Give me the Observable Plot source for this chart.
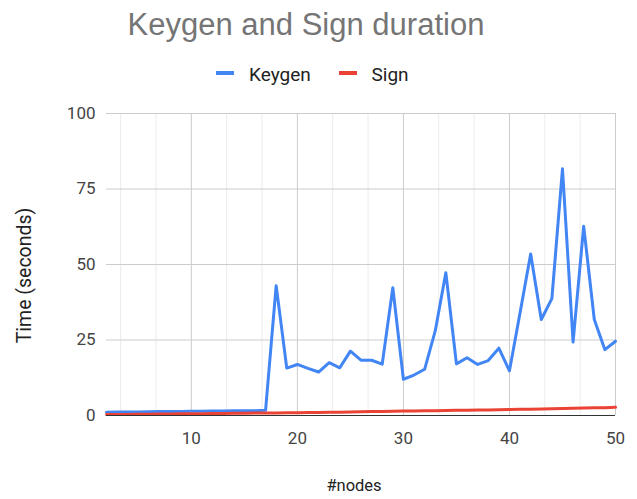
<!DOCTYPE html>
<html>
<head>
<meta charset="utf-8">
<script src="https://cdn.jsdelivr.net/npm/d3@7"></script>
<script src="https://cdn.jsdelivr.net/npm/@observablehq/plot@0.6"></script>
<style>
  body { margin: 0; background: #fff; }
  #wrap { position: relative; width: 637px; height: 499px; overflow: hidden; background: #fff; }
  #title { position: relative; height: 50px; }
  #title span { position: absolute; left: 306px; top: 9px; transform: translateX(-50%); white-space: nowrap;
    font-family: "Liberation Sans", Arial, sans-serif; font-size: 31px; line-height: 31px; color: #757575; }
  #legend { position: relative; height: 40px; font-family: Roboto, sans-serif; font-size: 19px; line-height: 19px; color: #222; }
  #legend .sw { position: absolute; top: 21.3px; width: 18px; height: 4px; }
  #legend .lb { position: absolute; top: 15px; white-space: nowrap; }
  #chart svg { display: block; }
</style>
</head>
<body>
<div id="wrap">
  <div id="title"><span>Keygen and Sign duration</span></div>
  <div id="legend">
    <div class="sw" style="left:216px;background:#4285f4"></div><div class="lb" style="left:249px">Keygen</div>
    <div class="sw" style="left:339px;background:#ea4335"></div><div class="lb" style="left:371.5px">Sign</div>
  </div>
  <div id="chart"></div>
</div>
<script>
const nodes = [2,3,4,5,6,7,8,9,10,11,12,13,14,15,16,17,18,19,20,21,22,23,24,25,26,27,28,29,30,31,32,33,34,35,36,37,38,39,40,41,42,43,44,45,46,47,48,49,50];
const keygen = [1.1,1.15,1.2,1.2,1.25,1.3,1.3,1.35,1.4,1.4,1.45,1.5,1.55,1.6,1.6,1.7,
  43,15.7,16.9,15.6,14.4,17.5,15.8,21.3,18.3,18.3,17.0,42.3,12.0,13.4,15.3,28,47.3,17.1,19.1,16.9,18.2,22.3,14.8,34,53.5,31.8,38.7,81.7,24.3,62.7,31.8,21.8,24.6];
const sign = [0.3,0.32,0.36,0.4,0.44,0.48,0.5,0.55,0.6,0.62,0.66,0.7,0.72,0.76,0.8,0.82,0.85,0.88,0.92,0.96,1.0,1.05,1.1,1.15,1.25,1.3,1.35,1.4,1.45,1.5,1.55,1.6,1.65,1.7,1.75,1.8,1.85,1.9,2.0,2.05,2.1,2.15,2.25,2.3,2.4,2.45,2.55,2.6,2.7];
const xTicks = [10,20,30,40,50];
const xMinor = [10/3,20/3,40/3,50/3,70/3,80/3,100/3,110/3,130/3,140/3];
const yTicks = [0,25,50,75,100];

const data = nodes.map((n, i) => ({n, keygen: keygen[i], sign: sign[i]}));

const chart = Plot.plot({
  width: 637, height: 409,
  marginTop: 23, marginBottom: 84, marginLeft: 106, marginRight: 22,
  style: {fontFamily: "Roboto, sans-serif", fontSize: "17px", color: "#444", background: "#fff"},
  x: {domain: [2, 50]},
  y: {domain: [0, 100]},
  marks: [
    Plot.ruleX(xMinor, {stroke: "#ebebeb", strokeWidth: 1}),
    Plot.ruleX(xTicks, {stroke: "#cccccc", strokeWidth: 1}),
    Plot.ruleY(yTicks.filter(v => v > 0), {stroke: "#cccccc", strokeWidth: 1}),
    Plot.axisX(xTicks, {tickSize: 0, tickPadding: 16, fontSize: 17, fill: "#444", label: null}),
    Plot.axisY(yTicks, {tickSize: 0, tickPadding: 11, fontSize: 17, fill: "#444", label: null}),
    Plot.lineY(data, {x: "n", y: "keygen", stroke: "#4285f4", strokeWidth: 3}),
    Plot.lineY(data, {x: "n", y: "sign", stroke: "#ea4335", strokeWidth: 3}),
    Plot.ruleY([0], {stroke: "#333", strokeWidth: 1}),
    Plot.text(["#nodes"], {text: d => d, frameAnchor: "bottom", textAnchor: "middle", lineAnchor: "bottom", dy: 75.7, dx: -7, fontSize: 16.5, fill: "#222"}),
    Plot.text(["Time (seconds)"], {text: d => d, frameAnchor: "left", textAnchor: "middle", lineAnchor: "middle", rotate: -90, dx: -82, dy: 11, fontSize: 19.5, fill: "#222"})
  ]
});
document.getElementById("chart").appendChild(chart);
</script>
</body>
</html>
